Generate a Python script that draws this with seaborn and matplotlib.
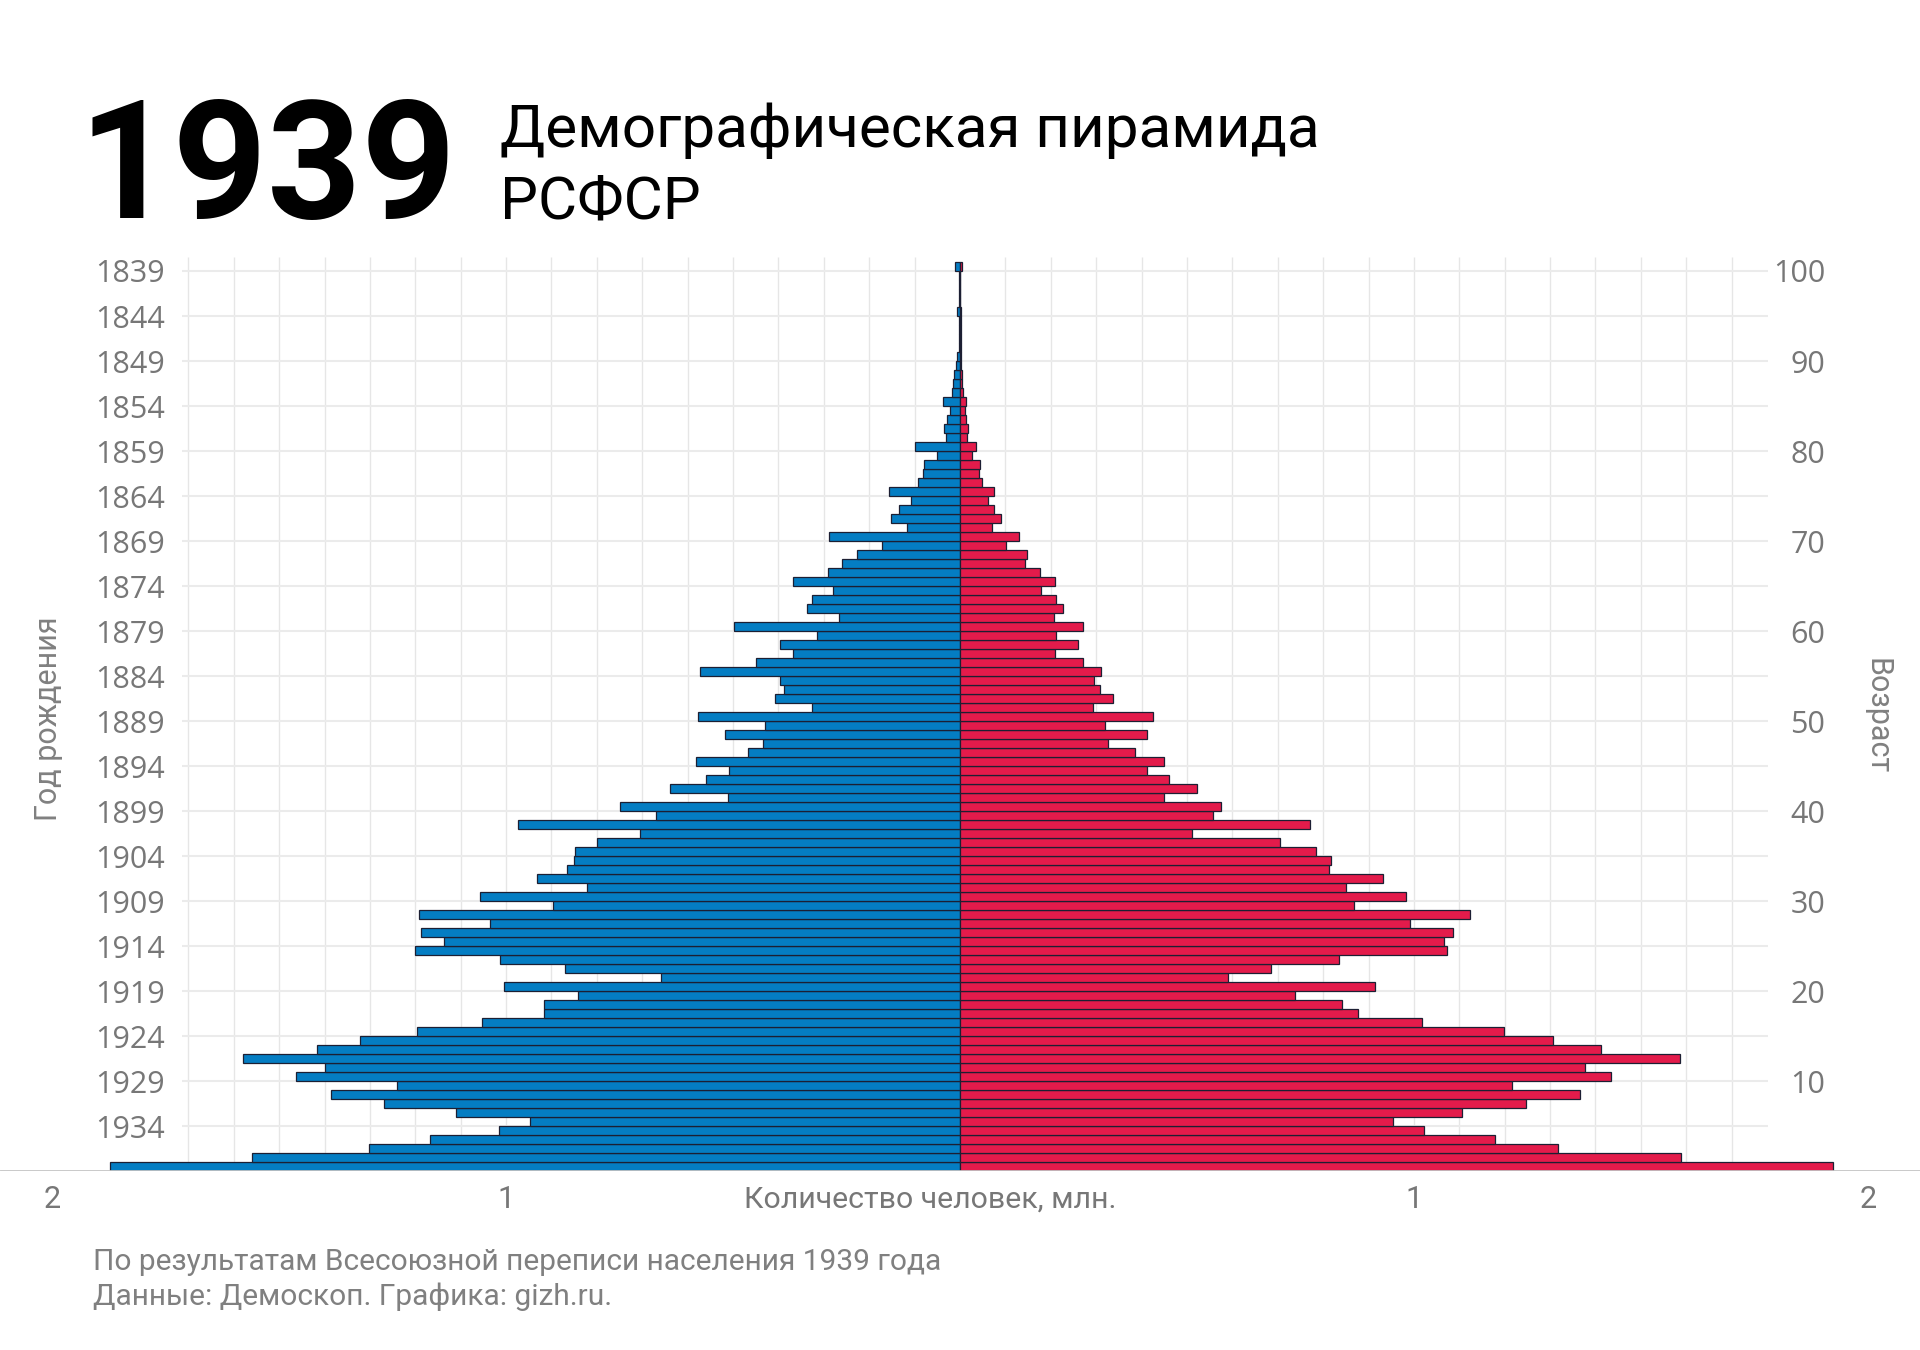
import matplotlib
matplotlib.use("Agg")
import matplotlib.pyplot as plt
import numpy as np
import pandas as pd
import seaborn as sns

# ---------------- data (millions of people, age 0..100) ----------------
ages = list(range(101))
male = [1.873, 1.559, 1.301, 1.168, 1.016, 0.948, 1.111, 1.269, 1.385, 1.240,
        1.462, 1.400, 1.579, 1.416, 1.321, 1.197, 1.054, 0.916, 0.916, 0.841,
        1.004, 0.659, 0.871, 1.014, 1.201, 1.137, 1.187, 1.036, 1.191, 0.896,
        1.058, 0.821, 0.931, 0.866, 0.851, 0.849, 0.799, 0.706, 0.973, 0.670,
        0.748, 0.511, 0.638, 0.559, 0.508, 0.582, 0.468, 0.433, 0.518, 0.430,
        0.578, 0.327, 0.407, 0.388, 0.397, 0.572, 0.450, 0.369, 0.397, 0.316,
        0.498, 0.266, 0.338, 0.326, 0.280, 0.367, 0.290, 0.261, 0.228, 0.172,
        0.289, 0.116, 0.152, 0.134, 0.108, 0.156, 0.093, 0.082, 0.080, 0.051,
        0.099, 0.030, 0.035, 0.028, 0.023, 0.038, 0.018, 0.015, 0.014, 0.0095,
        0.0066, 0.003, 0.003, 0.003, 0.003, 0.007, 0.002, 0.002, 0.002, 0.002,
        0.010]
female = [1.924, 1.588, 1.317, 1.179, 1.023, 0.953, 1.106, 1.246, 1.366, 1.217,
          1.434, 1.377, 1.587, 1.413, 1.307, 1.199, 1.018, 0.877, 0.842, 0.737,
          0.914, 0.591, 0.685, 0.835, 1.073, 1.066, 1.087, 0.991, 1.124, 0.867,
          0.982, 0.851, 0.933, 0.814, 0.818, 0.785, 0.704, 0.512, 0.770, 0.557,
          0.574, 0.450, 0.523, 0.460, 0.411, 0.449, 0.385, 0.326, 0.411, 0.319,
          0.426, 0.292, 0.336, 0.309, 0.295, 0.311, 0.270, 0.210, 0.259, 0.212,
          0.270, 0.206, 0.228, 0.211, 0.179, 0.209, 0.177, 0.143, 0.148, 0.102,
          0.130, 0.071, 0.090, 0.076, 0.061, 0.074, 0.049, 0.042, 0.045, 0.026,
          0.036, 0.015, 0.017, 0.013, 0.010, 0.013, 0.007, 0.005, 0.0044, 0.003,
          0.002, 0.0015, 0.0015, 0.0015, 0.0015, 0.002, 0.001, 0.001, 0.001, 0.001,
          0.004]

left_tick_ages = list(range(100, 0, -5))
left_tick_labels = [str(1939 - a) for a in left_tick_ages]
right_tick_ages = list(range(100, 0, -10))
right_tick_labels = [str(a) for a in right_tick_ages]
x_ticks = [-2, -1, 1, 2]
x_tick_labels = ["2", "1", "1", "2"]

BLUE = "#047DC3"
RED = "#E31B4B"
EDGE = "#1c1f33"
GRID = "#e6e6e6"
TICK = "#777777"

sns.set_theme(style="white")
plt.rcParams["font.family"] = ["Roboto", "DejaVu Sans"]

W, H = 1920, 1350
fig = plt.figure(figsize=(19.2, 13.5), dpi=100)
top_px, bot_px = 257, 1171.3
ax = fig.add_axes([0, (H - bot_px) / H, 1, (bot_px - top_px) / H])

df = pd.DataFrame({"age": ages, "male": male, "female": female})
df["pos"] = df["age"] + 0.5
df["male_neg"] = -df["male"]

sns.barplot(data=df, x="male_neg", y="pos", orient="y", native_scale=True,
            width=1, color=BLUE, saturation=1, edgecolor=EDGE, linewidth=0.9,
            errorbar=None, ax=ax, zorder=2)
sns.barplot(data=df, x="female", y="pos", orient="y", native_scale=True,
            width=1, color=RED, saturation=1, edgecolor=EDGE, linewidth=0.9,
            errorbar=None, ax=ax, zorder=2)

ymax = (bot_px - top_px) / 9.003
ax.set_xlim(-2.115, 2.115)
ax.set_ylim(0, ymax)

# grid
vx = [v / 10 for v in range(-17, 18) if v != 0]
ax.vlines(vx, 0, ymax, color=GRID, lw=1.0, zorder=0)
ax.hlines(left_tick_ages, -1.713, 1.781, color="#ebebeb", lw=1.5, zorder=0)
ax.axhline(0, color="#c4c4c4", lw=2.0, zorder=3)

for s in ax.spines.values():
    s.set_visible(False)
ax.set_xlabel("")
ax.set_ylabel("")

ax.set_yticks(left_tick_ages)
ax.set_yticklabels(left_tick_labels, fontfamily="Open Sans", fontsize=22, color=TICK)
ax.tick_params(axis="y", length=0, pad=-118.8)

ax.set_xticks(x_ticks)
ax.set_xticklabels(x_tick_labels, fontsize=22, color=TICK)
ax.tick_params(axis="x", length=0, pad=10)

ax2 = ax.twinx()
ax2.set_ylim(0, ymax)
ax2.set_yticks(right_tick_ages)
ax2.set_yticklabels(right_tick_labels, fontfamily="Open Sans", fontsize=22, color=TICK)
ax2.tick_params(axis="y", length=0, pad=-68.4)
for t in ax2.get_yticklabels():
    t.set_horizontalalignment("right")
for s in ax2.spines.values():
    s.set_visible(False)
ax2.grid(False)

# axis titles
fig.text(49 / W, 1 - 719 / H, "Год рождения", rotation=90, ha="center", va="center",
         fontsize=22, color="#808080")
fig.text(1877 / W, 1 - 716 / H, "Возраст", rotation=270, ha="center", va="center",
         fontsize=22, color="#808080")
fig.text(930 / W, 1 - 1200 / H, "Количество человек, млн.", ha="center", va="center",
         fontsize=21.8, color=TICK)

# title
fig.text(78 / W, 1 - 218 / H, "1939", fontsize=118.5, fontweight="bold", color="black",
         ha="left", va="baseline")
fig.text(500 / W, 1 - 147 / H, "Демографическая пирамида", fontsize=43.3, color="black",
         ha="left", va="baseline")
fig.text(500 / W, 1 - 218 / H, "РСФСР", fontsize=43.3, color="black",
         ha="left", va="baseline")

# footer
fig.text(93 / W, 1 - 1270 / H, "По результатам Всесоюзной переписи населения 1939 года",
         fontsize=21.5, color="#808080", ha="left", va="baseline")
fig.text(93 / W, 1 - 1305 / H, "Данные: Демоскоп. Графика: gizh.ru.",
         fontsize=21.5, color="#808080", ha="left", va="baseline")

fig.savefig("out.png", dpi=100, facecolor="white")
